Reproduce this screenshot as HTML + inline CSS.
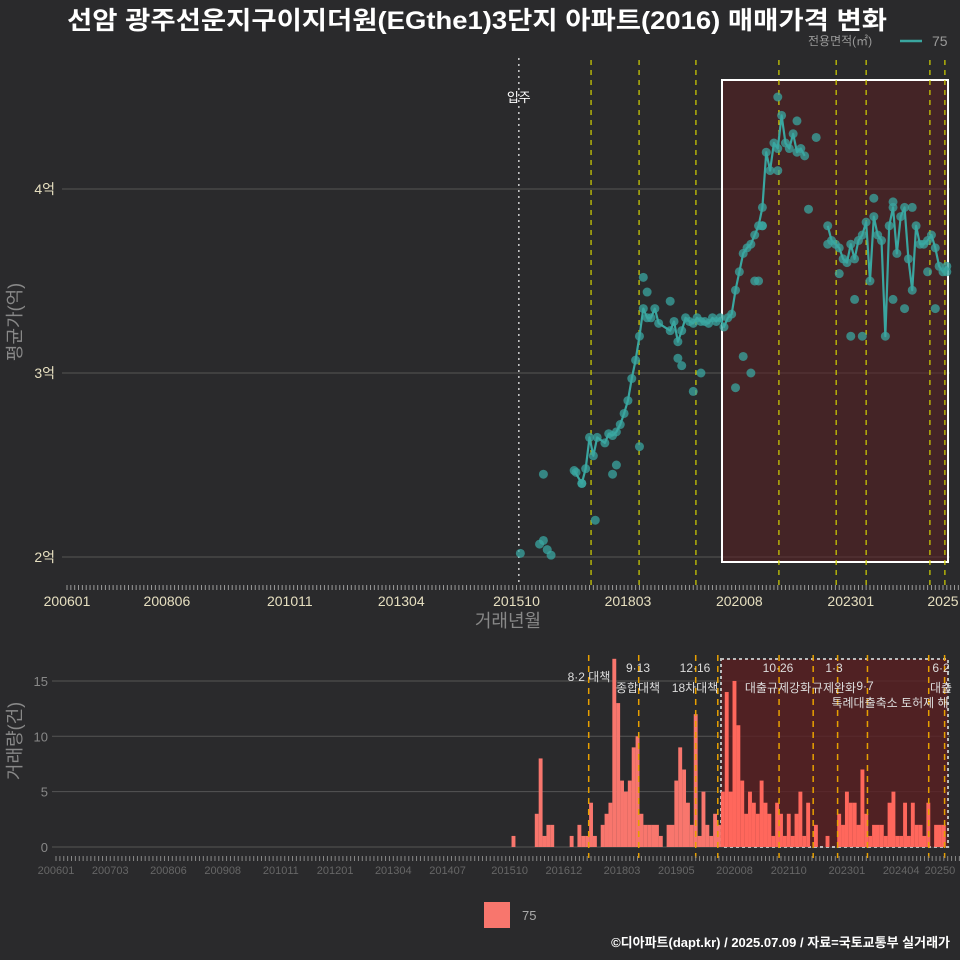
<!DOCTYPE html>
<html><head><meta charset="utf-8">
<style>
html,body{margin:0;padding:0;background:#2a2a2c;}
svg{display:block;font-family:"Liberation Sans","Noto Sans CJK KR",sans-serif;}
</style></head>
<body>
<svg id="chart" width="960" height="960" viewBox="0 0 960 960" xmlns="http://www.w3.org/2000/svg">
<rect x="0" y="0" width="960" height="960" fill="#2a2a2c"/>
<text x="477" y="29" text-anchor="middle" font-size="25" font-weight="bold" fill="#ffffff" textLength="820" lengthAdjust="spacingAndGlyphs">선암 광주선운지구이지더원(EGthe1)3단지 아파트(2016) 매매가격 변화</text>
<g>
<text x="808" y="45" font-size="12" fill="#999">전용면적(㎡)</text>
<line x1="900" y1="41" x2="922" y2="41" stroke="#3aa6a0" stroke-width="2.5"/>
<text x="932" y="46" font-size="14" fill="#999">75</text>
</g>
<g id="topG"></g>
<g id="botG"></g>
<text transform="translate(21,322) rotate(-90)" text-anchor="middle" font-size="18" fill="#888">평균가(억)</text>
<text x="508" y="627" text-anchor="middle" font-size="18" fill="#888">거래년월</text>
<text transform="translate(21,741) rotate(-90)" text-anchor="middle" font-size="18" fill="#888">거래량(건)</text>
<g>
<rect x="484" y="902" width="26" height="26" fill="#f8766d"/>
<text x="522" y="920" font-size="13" fill="#aaa">75</text>
</g>
<text x="950" y="947" text-anchor="end" font-size="13" font-weight="bold" fill="#ffffff">©디아파트(dapt.kr) / 2025.07.09 / 자료=국토교통부 실거래가</text>
</svg>
<script>
// ---- data (month index: 0 = 2006-01) ----
const lineMonths = [118,123,124,125,126,132,134,135,136,137,138,140,141,142,143,144,145,146,147,148,149,150,151,152,153,154,157,158,159,160,161,162,163,164,165,166,167,168,169,170,171,172,173,174,175,176,177,178,179,180,181,182,183,184,185,186,187,188,189,190,191,192];
const linePrices = [2.02,2.07,2.09,2.04,2.01,2.47,2.40,2.48,2.65,2.55,2.65,2.62,2.67,2.66,2.68,2.72,2.78,2.85,2.97,3.07,3.2,3.35,3.3,3.3,3.35,3.27,3.23,3.28,3.17,3.23,3.3,3.28,3.27,3.3,3.28,3.28,3.27,3.3,3.28,3.3,3.25,3.3,3.32,3.45,3.55,3.65,3.68,3.7,3.75,3.8,3.9,4.2,4.1,4.25,4.22,4.4,4.25,4.22,4.3,4.2,4.22,4.18];
const line2Months = [198,199,200,201,202,203,204,205,206,207,208,209,210,211,212,213,214,215,216,217,218,219,220,221,222,223,224,225,226,227,228,229];
const line2Prices = [3.8,3.72,3.7,3.68,3.62,3.6,3.7,3.62,3.72,3.75,3.82,3.5,3.85,3.75,3.72,3.2,3.8,3.9,3.65,3.85,3.9,3.62,3.45,3.8,3.7,3.7,3.72,3.75,3.68,3.58,3.55,3.58];
const extraMonths = [124,137.5,134,132.5,142,143,149,150,151,157,159,160,165,163,174,176,179,180,178,181,185,190,195,193,185,181,198,201,205,204,207,210,215,220,224,215,218,229,226];
const extraPrices = [2.45,2.2,2.4,2.46,2.45,2.5,2.6,3.52,3.44,3.39,3.08,3.04,3.0,2.9,2.92,3.09,3.5,3.5,3.0,3.8,4.5,4.37,4.28,3.89,4.1,3.8,3.7,3.54,3.4,3.2,3.2,3.95,3.93,3.9,3.55,3.4,3.35,3.55,3.35];
const volMonths = [118,124,125,126,127,128,133,135,136,137,138,139,141,142,143,144,145,146,147,148,149,150,151,152,153,154,155,156,158,159,160,161,162,163,164,165,166,167,168,169,170,171,172,173,174,175,176,177,178,179,180,181,182,183,184,185,186,187,188,189,190,191,192,193,194,196,199,202,203,204,205,206,207,208,209,210,211,212,213,214,215,216,217,218,219,220,221,222,223,224,225,227,228,229];
const volCounts = [1,3,8,1,2,2,1,2,1,1,4,1,2,3,4,17,13,6,5,6,9,10,3,2,2,2,2,1,2,2,6,9,7,4,2,12,1,5,2,1,3,2,5,14,5,15,11,6,3,5,4,3,6,4,3,1,4,3,1,3,1,3,5,1,4,2,1,3,2,5,4,4,2,7,3,1,2,2,2,1,4,5,1,1,4,1,4,2,2,1,4,2,2,2];
const priceTicks = [2,3,4];
const priceTickLabels = ["2억","3억","4억"];
const topXTicks = [0,26,58,87,117,146,175,204,228];
const topXLabels = ["200601","200806","201011","201304","201510","201803","202008","202301","2025"];
const botXTicks = [0,14,29,43,58,72,87,101,117,131,146,160,175,189,204,218,228];
const botXLabels = ["200601","200703","200806","200908","201011","201201","201304","201407","201510","201612","201803","201905","202008","202110","202301","202404","20250"];
const volTicks = [0,5,10,15];
const eventMonths = [136.4,148.9,163.7,185.3,200.2,208,224.6,228.5];
const botEventMonths = [137.4,150.3,165,170.7,186.5,195.3,201.6,209.3,225.1,229.2];
const moveInMonth = 117.6;

// ---- scales ----
const NS="http://www.w3.org/2000/svg";
const tx = m => 67 + m*3.842;
const ty = p => 557 - (p-2)*184;
const bx = m => 56 + m*3.877;
const by = v => 847 - v*11.07;
function mk(tag, attrs, parent){const e=document.createElementNS(NS,tag);for(const k in attrs)e.setAttribute(k,attrs[k]);parent.appendChild(e);return e;}
const topG=document.getElementById('topG'), botG=document.getElementById('botG');

priceTicks.forEach((p,i)=>{
 let g=mk('line',{x1:62,x2:950,y1:ty(p),y2:ty(p),stroke:'#555','stroke-width':1},topG);
 
 
 let t=mk('text',{x:55,y:ty(p)+5,'text-anchor':'end','font-size':14,fill:'#e6dfc0'},topG);t.textContent=priceTickLabels[i];
 
 
});
let hr=mk('rect',{x:722,y:80,width:226,height:482,fill:'#5a1f22','fill-opacity':0.55,stroke:'#fff','stroke-width':2},topG);


for(let m=0;m<=234;m++){let l=mk('line',{x1:tx(m),x2:tx(m),y1:585,y2:590,stroke:'#999','stroke-width':1},topG);
 
 }
topXTicks.forEach((m,i)=>{let t=mk('text',{x:tx(m),y:606,'text-anchor':'middle','font-size':14,fill:'#e6dfc0'},topG);t.textContent=topXLabels[i];
 
 });
let mi=mk('line',{x1:tx(moveInMonth),x2:tx(moveInMonth),y1:58,y2:585,stroke:'#ccc','stroke-width':1.5,'stroke-dasharray':'2,4'},topG);


let mt=mk('text',{x:tx(moveInMonth),y:102,'text-anchor':'middle','font-size':13,fill:'#fff'},topG);mt.textContent='입주';


eventMonths.forEach(m=>{let l=mk('line',{x1:tx(m),x2:tx(m),y1:60,y2:585,stroke:'#d4d400','stroke-width':1.2,'stroke-dasharray':'5,5'},topG);
 
 });
function dot(m,p){let c=mk('circle',{cx:tx(m),cy:ty(p),r:4.5,fill:'#3aa6a0','fill-opacity':0.75},topG);
 
 }
lineMonths.forEach((m,i)=>dot(m,linePrices[i]));
line2Months.forEach((m,i)=>dot(m,line2Prices[i]));
extraMonths.forEach((m,i)=>dot(m,extraPrices[i]));
function poly(ms,ps){let d=ms.map((m,i)=>tx(m)+','+ty(ps[i])).join(' ');
 let l=mk('polyline',{points:d,fill:'none',stroke:'#3aa6a0','stroke-width':2.2,'stroke-linejoin':'round'},topG);
 
 }
poly(lineMonths.slice(5),linePrices.slice(5));
poly(line2Months,line2Prices);

volTicks.forEach(v=>{let g=mk('line',{x1:52,x2:950,y1:by(v),y2:by(v),stroke:'#555','stroke-width':1},botG);
 
 
 let t=mk('text',{x:48,y:by(v)+5,'text-anchor':'end','font-size':13,fill:'#888'},botG);t.textContent=v;
 
 });
let hb=mk('rect',{x:721,y:659,width:227,height:188,fill:'#5a1f22','fill-opacity':0.8,stroke:'#bbb','stroke-width':2,'stroke-dasharray':'3,3'},botG);


volMonths.forEach((m,i)=>{const x=bx(m);const inH=x>721;
 let r=mk('rect',{x:x-1.95,y:by(volCounts[i]),width:3.9,height:volCounts[i]*11.07,fill:inH?'#ff675c':'#f8766d'},botG);
 
 });
botEventMonths.forEach(m=>{let l=mk('line',{x1:bx(m),x2:bx(m),y1:655,y2:858,stroke:'#e8a000','stroke-width':1.5,'stroke-dasharray':'6,5'},botG);
 
 });
for(let m=0;m<=234;m++){let l=mk('line',{x1:bx(m),x2:bx(m),y1:856,y2:861,stroke:'#888','stroke-width':1},botG);
 
 }
botXTicks.forEach((m,i)=>{let t=mk('text',{x:bx(m),y:874,'text-anchor':'middle','font-size':11,fill:'#666'},botG);t.textContent=botXLabels[i];
 
 });
const ann=[["8·2 대책",589,681],["9·13",638,672],["종합대책",638,692],["12·16",695,672],["18차대책",695,692],["10·26",778,672],["대출규제강화",778,692],["1·3",834,672],["규제완화",834,692],["9·7",865,690],["특례대출축소 토허제 해",890,707],["6·2",941,672],["대출",941,692]];
ann.forEach(a=>{let t=mk('text',{x:a[1],y:a[2],'text-anchor':'middle','font-size':12,fill:'#ddd'},botG);t.textContent=a[0];
 
 });
</script>
</body></html>
